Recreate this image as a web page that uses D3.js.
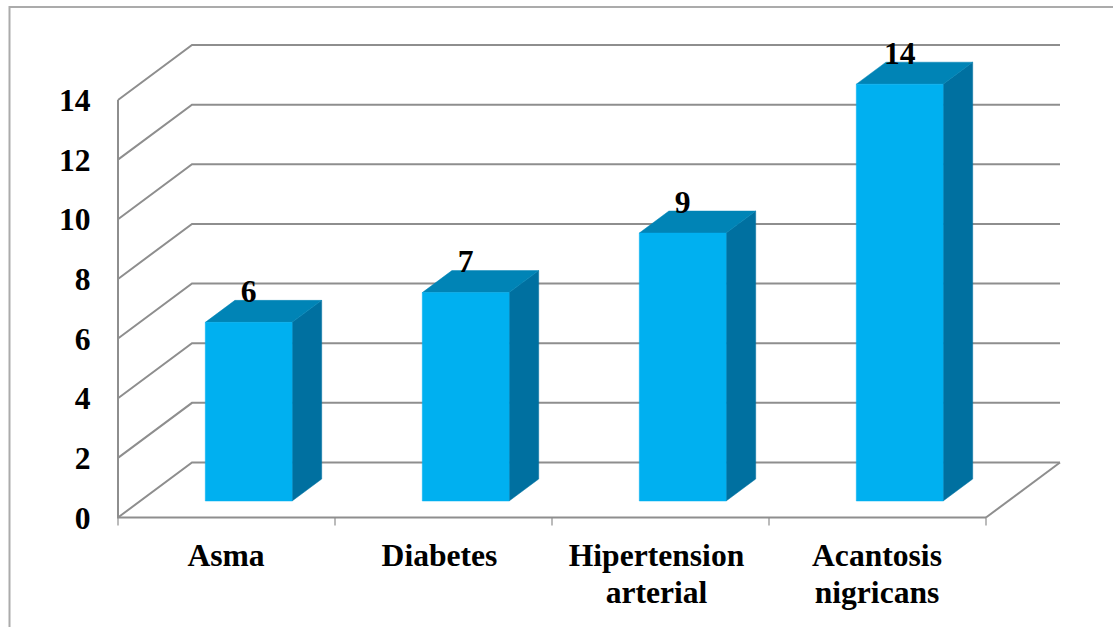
<!DOCTYPE html>
<html>
<head>
<meta charset="utf-8">
<script src="https://cdn.jsdelivr.net/npm/d3@7"></script>
<style>
html,body{margin:0;padding:0;background:#fff;}
svg{display:block;}
text{font-family:"Liberation Serif","Times New Roman",serif;font-weight:bold;fill:#000;}
</style>
</head>
<body>
<svg id="chart" width="1113" height="627"></svg>
<script>
const categories = [["Asma"], ["Diabetes"], ["Hipertension", "arterial"], ["Acantosis", "nigricans"]];
const values = [6, 7, 9, 14];
const yTicks = [0, 2, 4, 6, 8, 10, 12, 14];

const svg = d3.select("#chart");
const x = d3.scaleBand().domain(d3.range(categories.length)).range([118, 986]);
const y = d3.scaleLinear().domain([0, 14]).range([517.5, 100]);
// Bars sit on the floor at a slightly shorter height than the wall scale
const yBar = d3.scaleLinear().domain([0, 14]).range([517.5, 100.7]);

// Oblique projection: depth 0 is the front plane, depth 1 the back wall.
const depthX = d3.scaleLinear().domain([0, 1]).range([0, 74]);
const depthY = d3.scaleLinear().domain([0, 1]).range([0, -55]);
const px = (xv, d) => xv + depthX(d);
const py = (yv, d) => yv + depthY(d);
const line = d3.line();

const frameColor = "#ababab", gridColor = "#8e8e8e";
const fontSize = 31.6;

// Outer chart frame
svg.append("path").attr("fill", "none").attr("stroke", frameColor).attr("stroke-width", 2)
  .attr("d", line([[9.5, 627], [9.5, 7], [1113, 7]]));

// Gridlines along the side wall and back wall
const grid = svg.append("g").attr("fill", "none").attr("stroke", gridColor).attr("stroke-width", 2);
grid.selectAll("path").data(yTicks).join("path")
  .attr("d", t => line([[x.range()[0], y(t)], [px(x.range()[0], 1), py(y(t), 1)], [px(x.range()[1], 1), py(y(t), 1)]]));

// Floor edge on the right
grid.append("path").attr("d", line([[x.range()[1], y(0)], [px(x.range()[1], 1), py(y(0), 1)]]));

// Vertical and horizontal axes on the front plane
const axisG = svg.append("g").attr("fill", "none").attr("stroke", gridColor);
axisG.append("path").attr("stroke-width", 2).attr("d", line([[x.range()[0], y(14)], [x.range()[0], y(0)], [x.range()[1], y(0)]]));
axisG.selectAll("line.tick").data(d3.range(categories.length + 1)).join("line")
  .attr("class", "tick").attr("stroke-width", 1.2)
  .attr("x1", i => x.range()[0] + i * x.step()).attr("x2", i => x.range()[0] + i * x.step())
  .attr("y1", y(0)).attr("y2", y(0) + 8);

// Bars: each one is a box spanning depth 0.3 to 0.7
const d0 = 0.3, d1 = 0.7;
const barInset = 0.3, barWidth = 0.4;
const bars = svg.append("g").selectAll("g").data(values).join("g");
const left = i => x(i) + x.step() * barInset;
const right = i => left(i) + x.step() * barWidth;

bars.append("path").attr("fill", "#0070a0").attr("stroke", "#0070a0").attr("stroke-width", 0.5)
  .attr("d", (v, i) => line([
    [px(right(i), d0), py(yBar(v), d0)], [px(right(i), d1), py(yBar(v), d1)],
    [px(right(i), d1), py(yBar(0), d1)], [px(right(i), d0), py(yBar(0), d0)]]) + "Z");
bars.append("path").attr("fill", "#0084b6").attr("stroke", "#0084b6").attr("stroke-width", 0.5)
  .attr("d", (v, i) => line([
    [px(left(i), d0), py(yBar(v), d0)], [px(left(i), d1), py(yBar(v), d1)],
    [px(right(i), d1), py(yBar(v), d1)], [px(right(i), d0), py(yBar(v), d0)]]) + "Z");
bars.append("path").attr("fill", "#00b0f0").attr("stroke", "#00b0f0").attr("stroke-width", 0.5)
  .attr("d", (v, i) => line([
    [px(left(i), d0), py(yBar(v), d0)], [px(right(i), d0), py(yBar(v), d0)],
    [px(right(i), d0), py(yBar(0), d0)], [px(left(i), d0), py(yBar(0), d0)]]) + "Z");

// Value labels above each bar
bars.append("text").attr("font-size", fontSize).attr("text-anchor", "middle")
  .attr("x", (v, i) => px((left(i) + right(i)) / 2, d0))
  .attr("y", v => py(yBar(v), d0) - 20.5)
  .text(v => v);

// Y tick labels
svg.append("g").selectAll("text").data(yTicks).join("text")
  .attr("font-size", fontSize).attr("text-anchor", "end")
  .attr("x", 90.5).attr("y", t => y(t) + 11)
  .text(t => t);

// Category labels, wrapped on two lines where needed; the middle two sit a little left of centre
const labelShift = [-0.5, -4, -4, -0.5];
const catLabels = svg.append("g").selectAll("text").data(categories).join("text")
  .attr("font-size", fontSize).attr("text-anchor", "middle")
  .attr("transform", (c, i) => `translate(${x(i) + x.step() / 2 + labelShift[i]},566)`);
catLabels.selectAll("tspan").data(c => c).join("tspan")
  .attr("x", 0).attr("y", (l, j) => j * 37).text(l => l);
</script>
</body>
</html>
